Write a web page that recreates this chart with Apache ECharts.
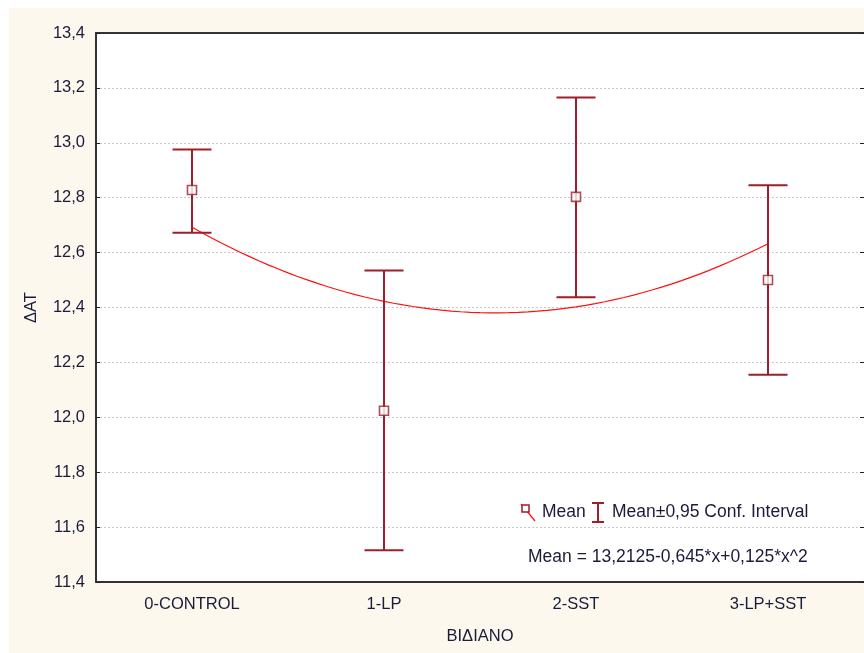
<!DOCTYPE html>
<html>
<head>
<meta charset="utf-8">
<script src="https://cdn.jsdelivr.net/npm/echarts@6/dist/echarts.min.js"></script>
<style>
  html, body { margin: 0; padding: 0; background: #ffffff; }
  #chart { position: absolute; left: 9px; top: 8px; width: 855px; height: 645px; }
</style>
</head>
<body>
<div id="chart"></div>
<script>
// Groups on the horizontal axis
const categories = ['0-CONTROL', '1-LP', '2-SST', '3-LP+SST'];
// Group means of ΔAT
const means = [12.828, 12.024, 12.803, 12.500];
// 95% confidence interval bounds
const ciLow = [12.672, 11.516, 12.437, 12.155];
const ciHigh = [12.976, 12.535, 13.165, 12.845];
// Quadratic fit Mean = c0 + c1*x + c2*x^2, with x = group number 1..4
const fitCoef = [13.2125, -0.645, 0.125];
const fitLabel = 'Mean = 13,2125-0,645*x+0,125*x^2';
// Y-axis range and step
const yMin = 11.4, yMax = 13.4, yStep = 0.2;

const ERR = '#a01e2a';
const TXT = '#1b1b3a';
const FONT = 'Liberation Sans, Arial, sans-serif';
const AX_FS = 16.5;
const LG_FS = 17.5;

// Sample the stated fit polynomial across the groups
const fitPts = [];
for (let i = 0; i <= 60; i++) {
  const t = i / 20;              // 0..3 along the category index
  const x = t + 1;
  fitPts.push([t, fitCoef[0] + fitCoef[1] * x + fitCoef[2] * x * x]);
}

const chart = echarts.init(document.getElementById('chart'), null, { renderer: 'canvas' });

const comma = v => v.toFixed(1).replace('.', ',');

chart.setOption({
  backgroundColor: '#fdf8ee',
  animation: false,
  grid: { left: 87, top: 25, right: 0, bottom: 71, show: true, backgroundColor: '#ffffff', borderWidth: 0 },
  xAxis: [
    {
      type: 'category', data: categories, position: 'bottom',
      name: 'ΒΙΔΙΑΝΟ', nameLocation: 'middle', nameGap: 46,
      nameTextStyle: { color: TXT, fontFamily: FONT, fontSize: AX_FS },
      axisLine: { onZero: false, lineStyle: { color: '#333333', width: 2 } },
      axisTick: { inside: true, alignWithLabel: true, length: 4, lineStyle: { color: '#222', width: 1 } },
      axisLabel: { color: TXT, fontFamily: FONT, fontSize: AX_FS, margin: 14 },
      splitLine: { show: false }
    },
    {
      type: 'category', data: categories, position: 'top',
      axisLine: { onZero: false, lineStyle: { color: '#333333', width: 2 } },
      axisTick: { inside: true, alignWithLabel: true, length: 4, lineStyle: { color: '#222', width: 1 } },
      axisLabel: { show: false },
      splitLine: { show: false }
    },
    {
      type: 'value', min: -0.5, max: 3.5, show: false
    }
  ],
  yAxis: [
    {
      type: 'value', min: yMin, max: yMax, interval: yStep,
      name: 'ΔAT', nameLocation: 'middle', nameGap: 56, nameRotate: 90,
      nameTextStyle: { color: TXT, fontFamily: FONT, fontSize: AX_FS },
      axisLine: { show: true, onZero: false, lineStyle: { color: '#333333', width: 2 } },
      axisTick: { show: true, inside: true, length: 4, lineStyle: { color: '#222', width: 1 } },
      axisLabel: { color: TXT, fontFamily: FONT, fontSize: AX_FS, margin: 11, formatter: comma },
      splitLine: { show: true, lineStyle: { color: '#c8c8c8', width: 1, type: [2, 2] } }
    },
    {
      type: 'value', min: yMin, max: yMax, interval: yStep, position: 'right',
      axisLine: { show: false, onZero: false },
      axisTick: { show: true, inside: true, length: 4, lineStyle: { color: '#222', width: 1 } },
      axisLabel: { show: false },
      splitLine: { show: false }
    }
  ],
  series: [
    {
      name: 'fit', type: 'line', xAxisIndex: 2, yAxisIndex: 0,
      data: fitPts, showSymbol: false, smooth: false,
      lineStyle: { color: '#ff1010', width: 1.2 }, z: 3, silent: true
    },
    {
      name: 'Mean±0,95 Conf. Interval', type: 'custom', xAxisIndex: 0, yAxisIndex: 0,
      data: categories.map((c, i) => [i, ciLow[i], ciHigh[i]]),
      encode: { x: 0, y: [1, 2] },
      renderItem: function (params, api) {
        const lo = api.coord([api.value(0), api.value(1)]);
        const hi = api.coord([api.value(0), api.value(2)]);
        const hw = 19.5;
        const st = { stroke: ERR, lineWidth: 2 };
        return {
          type: 'group',
          children: [
            { type: 'line', shape: { x1: hi[0], y1: hi[1], x2: lo[0], y2: lo[1] }, style: st },
            { type: 'line', shape: { x1: hi[0] - hw, y1: hi[1], x2: hi[0] + hw, y2: hi[1] }, style: st },
            { type: 'line', shape: { x1: lo[0] - hw, y1: lo[1], x2: lo[0] + hw, y2: lo[1] }, style: st }
          ]
        };
      },
      z: 4, silent: true
    },
    {
      name: 'Mean', type: 'scatter', xAxisIndex: 0, yAxisIndex: 0,
      data: means, symbol: 'rect', symbolSize: 9,
      itemStyle: { color: '#ffffff', borderColor: ERR, borderWidth: 1.6 },
      z: 5, silent: true
    }
  ],
  graphic: [
    // legend: mean marker with fit line stroke
    { type: 'line', shape: { x1: 512, y1: 496, x2: 526, y2: 513 }, style: { stroke: '#ff1010', lineWidth: 1.2 }, z: 10 },
    { type: 'rect', shape: { x: 513, y: 497, width: 7, height: 7 }, style: { fill: '#ffffff', stroke: ERR, lineWidth: 1.5 }, z: 11 },
    { type: 'text', left: 533, top: 495, style: { text: 'Mean', fill: TXT, font: LG_FS + 'px ' + FONT }, z: 10 },
    // legend: confidence interval glyph
    { type: 'line', shape: { x1: 583, y1: 495, x2: 595, y2: 495 }, style: { stroke: ERR, lineWidth: 2 }, z: 10 },
    { type: 'line', shape: { x1: 589, y1: 495, x2: 589, y2: 514 }, style: { stroke: ERR, lineWidth: 2 }, z: 10 },
    { type: 'line', shape: { x1: 583, y1: 514, x2: 595, y2: 514 }, style: { stroke: ERR, lineWidth: 2 }, z: 10 },
    { type: 'text', left: 603, top: 495, style: { text: 'Mean±0,95 Conf. Interval', fill: TXT, font: LG_FS + 'px ' + FONT }, z: 10 },
    // fit equation
    { type: 'text', left: 519, top: 540, style: { text: fitLabel, fill: TXT, font: LG_FS + 'px ' + FONT }, z: 10 }
  ]
});
</script>
</body>
</html>
